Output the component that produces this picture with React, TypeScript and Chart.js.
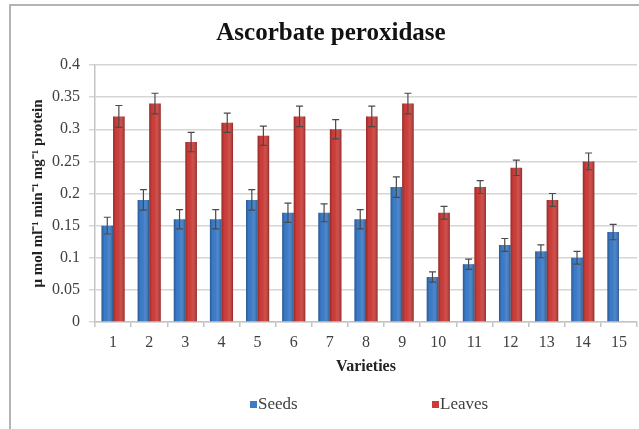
import React, { useEffect, useRef } from "react";
import { Chart, registerables } from "chart.js";

Chart.register(...registerables);

const categories = ["1", "2", "3", "4", "5", "6", "7", "8", "9", "10", "11", "12", "13", "14", "15"];
const seeds = [0.15, 0.19, 0.16, 0.16, 0.19, 0.17, 0.17, 0.16, 0.21, 0.07, 0.09, 0.12, 0.11, 0.10, 0.14];
const leaves = [0.32, 0.34, 0.28, 0.31, 0.29, 0.32, 0.30, 0.32, 0.34, 0.17, 0.21, 0.24, 0.19, 0.25, null];
const seedsErr = [0.013, 0.016, 0.015, 0.015, 0.016, 0.015, 0.014, 0.015, 0.016, 0.008, 0.008, 0.01, 0.01, 0.01, 0.012];
const leavesErr = [0.017, 0.016, 0.015, 0.015, 0.015, 0.016, 0.015, 0.016, 0.016, 0.01, 0.01, 0.012, 0.01, 0.013, 0];
const yTicks = [0, 0.05, 0.1, 0.15, 0.2, 0.25, 0.3, 0.35, 0.4];
const titleText = "Ascorbate peroxidase";
const yTitle = "μ mol ml⁻¹ min⁻¹ mg⁻¹ protein";
const xTitle = "Varieties";
const seriesNames = ["Seeds", "Leaves"];

const SERIF = "'Liberation Serif', 'Times New Roman', serif";
const BLUE = "#3b7bc8";
const RED = "#cc3d39";

const framePlugin = {
  id: "frame",
  beforeDraw(chart: any) {
    const { ctx, width, height } = chart;
    ctx.save();
    ctx.fillStyle = "#ffffff";
    ctx.fillRect(0, 0, width, height);
    ctx.strokeStyle = "#b4b4b4";
    ctx.lineWidth = 2;
    ctx.beginPath();
    ctx.moveTo(10, height);
    ctx.lineTo(10, 5);
    ctx.lineTo(width, 5);
    ctx.stroke();
    // title
    ctx.fillStyle = "#111111";
    ctx.font = `bold 25px ${SERIF}`;
    ctx.textAlign = "center";
    ctx.textBaseline = "middle";
    ctx.fillText(titleText, 331, 34);
    ctx.restore();
  },
  afterDatasetsDraw(chart: any) {
    const { ctx } = chart;
    const yScale = chart.scales.y;
    const errs = [seedsErr, leavesErr];
    ctx.save();
    chart.data.datasets.forEach((ds: any, di: number) => {
      const meta = chart.getDatasetMeta(di);
      meta.data.forEach((el: any, i: number) => {
        const v = ds.data[i];
        if (v === null || v === undefined) return;
        const w = el.width;
        const x0 = el.x - w / 2;
        const g = ctx.createLinearGradient(x0, 0, x0 + w, 0);
        g.addColorStop(0, "rgba(0,0,0,0.28)");
        g.addColorStop(0.25, "rgba(0,0,0,0.0)");
        g.addColorStop(0.6, "rgba(255,255,255,0.08)");
        g.addColorStop(1, "rgba(0,0,0,0.3)");
        ctx.fillStyle = g;
        ctx.fillRect(x0, el.y, w, el.base - el.y);
      });
    });
    chart.data.datasets.forEach((ds: any, di: number) => {
      const meta = chart.getDatasetMeta(di);
      meta.data.forEach((el: any, i: number) => {
        const v = ds.data[i];
        const e = errs[di][i];
        if (v === null || v === undefined || !e) return;
        const yt = yScale.getPixelForValue(v + e);
        const yb = yScale.getPixelForValue(v - e);
        const x = el.x;
        ctx.strokeStyle = "#4a4a4a";
        ctx.lineWidth = 1.2;
        ctx.beginPath();
        ctx.moveTo(x, yt);
        ctx.lineTo(x, yb);
        ctx.moveTo(x - 3.5, yt);
        ctx.lineTo(x + 3.5, yt);
        ctx.moveTo(x - 3.5, yb);
        ctx.lineTo(x + 3.5, yb);
        ctx.stroke();
      });
    });
    ctx.restore();
  },
  afterDraw(chart: any) {
    const { ctx } = chart;
    ctx.save();
    ctx.font = `17px ${SERIF}`;
    ctx.textBaseline = "middle";
    ctx.textAlign = "left";
    const items = [
      { x: 250, color: BLUE, label: seriesNames[0] },
      { x: 432, color: RED, label: seriesNames[1] },
    ];
    items.forEach((it) => {
      ctx.fillStyle = it.color;
      ctx.fillRect(it.x, 401, 7, 7);
      ctx.fillStyle = "#404040";
      ctx.fillText(it.label, it.x + 8, 405);
    });
    ctx.restore();
  },
};

export default function App() {
  const ref = useRef<HTMLCanvasElement | null>(null);
  useEffect(() => {
    if (!ref.current) return;
    const chart = new Chart(ref.current, {
      type: "bar",
      data: {
        labels: categories,
        datasets: [
          { label: seriesNames[0], data: seeds, backgroundColor: BLUE, borderWidth: 0 },
          { label: seriesNames[1], data: leaves as any, backgroundColor: RED, borderWidth: 0 },
        ],
      },
      options: {
        responsive: false,
        animation: false,
        devicePixelRatio: 1,
        layout: { padding: { top: 65, right: 2, left: 0, bottom: 0 } },
        datasets: { bar: { categoryPercentage: 0.64, barPercentage: 1 } },
        plugins: {
          legend: { display: false },
          title: { display: false },
          tooltip: { enabled: false },
        },
        scales: {
          x: {
            offset: true,
            grid: {
              display: true,
              drawOnChartArea: false,
              drawTicks: true,
              tickLength: 5,
              offset: true,
              color: "#c4c4c4",
              lineWidth: 1.5,
            },
            border: { display: true, color: "#c4c4c4", width: 1.5 },
            ticks: {
              color: "#404040",
              font: { family: SERIF, size: 16 },
              padding: 6,
              maxRotation: 0,
              autoSkip: false,
            },
            title: {
              display: true,
              text: xTitle,
              color: "#222222",
              font: { family: SERIF, size: 16, weight: "bold" },
              padding: { top: 0, bottom: 52.4 },
            },
            afterFit(scale: any) {
              scale.height = 107;
            },
          },
          y: {
            min: 0,
            max: 0.4,
            afterBuildTicks(scale: any) {
              scale.ticks = yTicks.map((v) => ({ value: v }));
            },
            grid: {
              color: "#d6d6d6",
              lineWidth: 1.5,
              drawTicks: true,
              tickLength: 6,
            },
            border: { display: true, color: "#c4c4c4", width: 1.5 },
            ticks: {
              color: "#404040",
              font: { family: SERIF, size: 16 },
              padding: 9,
              callback: (v: any) => String(Number(v)),
            },
            title: {
              display: true,
              text: yTitle,
              color: "#222222",
              font: { family: SERIF, size: 15, weight: "bold" },
              padding: { top: 29, bottom: 0 },
            },
            afterFit(scale: any) {
              scale.width = 95;
            },
          },
        },
      },
      plugins: [framePlugin],
    });
    return () => chart.destroy();
  }, []);
  return (
    <div style={{ position: "fixed", left: 0, top: 0, width: 639, height: 429 }}>
      <canvas ref={ref} width={639} height={429} style={{ width: 639, height: 429 }} />
    </div>
  );
}
